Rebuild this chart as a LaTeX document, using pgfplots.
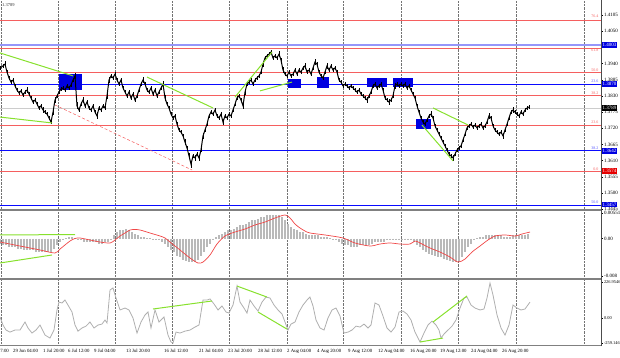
\documentclass[border=0pt]{standalone}
\usepackage{pgfplots}
\pgfplotsset{compat=1.18}
\usepackage{pgfplotstable}
\usepackage{fontspec}
\setmainfont{Liberation Serif}
\definecolor{fibred}{RGB}{245,95,95}
\definecolor{mblue}{RGB}{10,10,255}
\definecolor{lav}{RGB}{150,150,250}
\definecolor{grn}{RGB}{135,225,45}
\definecolor{boxb}{RGB}{0,0,225}
\definecolor{sepgray}{RGB}{128,128,128}
\definecolor{mgray}{RGB}{185,185,185}
\definecolor{ccig}{RGB}{175,175,175}
\definecolor{sigred}{RGB}{240,70,70}

\pgfplotstableread{
x c e
0 1.3925 0.0008
3 1.3932 0.0007
5 1.3938 0.0010
7 1.3911 0.0008
9 1.3891 0.0007
11 1.3877 0.0008
13 1.3884 0.0007
15 1.3864 0.0007
17 1.3850 0.0008
19 1.3840 0.0007
21 1.3847 0.0006
23 1.3833 0.0007
25 1.3843 0.0008
27 1.3850 0.0009
29 1.3836 0.0007
31 1.3823 0.0006
33 1.3809 0.0007
35 1.3816 0.0008
37 1.3802 0.0007
39 1.3789 0.0008
41 1.3796 0.0007
43 1.3782 0.0009
45 1.3775 0.0007
47 1.3768 0.0008
49 1.3755 0.0008
51 1.3741 0.0008
53 1.3775 0.0010
55 1.3816 0.0009
57 1.3830 0.0007
59 1.3843 0.0008
61 1.3853 0.0007
63 1.3857 0.0007
65 1.3850 0.0008
67 1.3864 0.0007
69 1.3857 0.0008
71 1.3867 0.0007
73 1.3884 0.0008
75 1.3898 0.0010
77 1.3796 0.0012
79 1.3782 0.0008
81 1.3802 0.0007
83 1.3816 0.0009
85 1.3796 0.0007
87 1.3809 0.0008
89 1.3789 0.0007
91 1.3782 0.0008
93 1.3796 0.0007
95 1.3775 0.0008
97 1.3762 0.0012
99 1.3789 0.0007
101 1.3782 0.0008
103 1.3796 0.0007
105 1.3789 0.0008
107 1.3830 0.0010
109 1.3884 0.0010
111 1.3898 0.0008
113 1.3891 0.0007
115 1.3904 0.0008
117 1.3884 0.0007
119 1.3870 0.0008
121 1.3884 0.0007
123 1.3857 0.0008
125 1.3843 0.0007
127 1.3830 0.0008
129 1.3843 0.0007
131 1.3823 0.0008
133 1.3836 0.0007
135 1.3816 0.0008
137 1.3830 0.0007
139 1.3850 0.0008
141 1.3870 0.0008
143 1.3884 0.0009
145 1.3870 0.0007
147 1.3850 0.0008
149 1.3843 0.0007
151 1.3857 0.0008
153 1.3836 0.0007
155 1.3850 0.0008
157 1.3830 0.0007
159 1.3843 0.0008
161 1.3857 0.0007
163 1.3870 0.0009
165 1.3823 0.0010
167 1.3802 0.0008
169 1.3789 0.0007
171 1.3768 0.0008
173 1.3755 0.0007
175 1.3762 0.0008
177 1.3734 0.0008
179 1.3714 0.0007
181 1.3707 0.0008
183 1.3694 0.0007
185 1.3673 0.0009
187 1.3653 0.0008
189 1.3626 0.0010
191 1.3598 0.0012
193 1.3626 0.0008
195 1.3619 0.0009
197 1.3632 0.0008
199 1.3619 0.0009
201 1.3646 0.0008
203 1.3694 0.0010
205 1.3714 0.0008
207 1.3734 0.0007
209 1.3762 0.0008
211 1.3775 0.0007
213 1.3768 0.0008
215 1.3782 0.0007
217 1.3762 0.0008
219 1.3755 0.0007
221 1.3768 0.0008
223 1.3741 0.0010
225 1.3762 0.0007
227 1.3755 0.0008
229 1.3768 0.0007
231 1.3762 0.0008
233 1.3782 0.0007
235 1.3802 0.0008
237 1.3823 0.0007
239 1.3830 0.0008
241 1.3816 0.0008
243 1.3796 0.0012
245 1.3843 0.0010
247 1.3870 0.0008
249 1.3877 0.0007
251 1.3884 0.0008
253 1.3870 0.0007
255 1.3884 0.0008
257 1.3891 0.0007
259 1.3898 0.0008
261 1.3911 0.0008
263 1.3938 0.0009
265 1.3959 0.0008
267 1.3966 0.0007
269 1.3972 0.0008
271 1.3979 0.0008
273 1.3959 0.0007
275 1.3966 0.0008
277 1.3959 0.0007
279 1.3972 0.0010
281 1.3952 0.0008
283 1.3918 0.0009
285 1.3904 0.0007
287 1.3898 0.0008
289 1.3911 0.0007
291 1.3898 0.0008
293 1.3904 0.0007
295 1.3918 0.0008
297 1.3904 0.0007
299 1.3918 0.0008
301 1.3911 0.0007
303 1.3925 0.0008
305 1.3932 0.0009
307 1.3911 0.0007
309 1.3918 0.0008
311 1.3904 0.0007
313 1.3925 0.0008
315 1.3945 0.0009
317 1.3938 0.0008
319 1.3911 0.0007
321 1.3898 0.0008
323 1.3891 0.0007
325 1.3911 0.0008
327 1.3932 0.0009
329 1.3918 0.0007
331 1.3932 0.0008
333 1.3918 0.0007
335 1.3925 0.0008
337 1.3911 0.0007
339 1.3884 0.0008
341 1.3877 0.0007
343 1.3864 0.0008
345 1.3870 0.0007
347 1.3864 0.0008
349 1.3857 0.0007
351 1.3864 0.0008
353 1.3857 0.0007
355 1.3850 0.0008
357 1.3843 0.0007
359 1.3850 0.0008
361 1.3836 0.0007
363 1.3830 0.0008
365 1.3823 0.0007
367 1.3816 0.0009
369 1.3830 0.0007
371 1.3843 0.0008
373 1.3864 0.0008
375 1.3870 0.0007
377 1.3857 0.0008
379 1.3864 0.0007
381 1.3870 0.0008
383 1.3850 0.0007
385 1.3823 0.0008
387 1.3816 0.0007
389 1.3809 0.0009
391 1.3816 0.0007
393 1.3830 0.0008
395 1.3864 0.0009
397 1.3870 0.0007
399 1.3864 0.0008
401 1.3870 0.0007
403 1.3864 0.0008
405 1.3870 0.0007
407 1.3857 0.0008
409 1.3864 0.0007
411 1.3850 0.0008
413 1.3836 0.0007
415 1.3823 0.0008
417 1.3796 0.0008
419 1.3775 0.0007
421 1.3755 0.0008
423 1.3741 0.0007
425 1.3734 0.0008
427 1.3748 0.0007
429 1.3762 0.0008
431 1.3768 0.0009
433 1.3755 0.0008
435 1.3728 0.0007
437 1.3714 0.0008
439 1.3700 0.0007
441 1.3687 0.0008
443 1.3673 0.0007
445 1.3660 0.0008
447 1.3646 0.0007
449 1.3632 0.0008
451 1.3626 0.0008
453 1.3619 0.0010
455 1.3632 0.0008
457 1.3646 0.0007
459 1.3653 0.0008
461 1.3660 0.0007
463 1.3680 0.0008
465 1.3700 0.0007
467 1.3721 0.0008
469 1.3728 0.0007
471 1.3734 0.0008
473 1.3724 0.0007
475 1.3731 0.0008
477 1.3721 0.0007
479 1.3728 0.0008
481 1.3734 0.0007
483 1.3721 0.0008
485 1.3728 0.0007
487 1.3741 0.0008
489 1.3762 0.0009
491 1.3755 0.0007
493 1.3728 0.0008
495 1.3714 0.0007
497 1.3707 0.0008
499 1.3700 0.0007
501 1.3707 0.0008
503 1.3694 0.0009
505 1.3714 0.0008
507 1.3734 0.0007
509 1.3755 0.0008
511 1.3775 0.0008
513 1.3782 0.0009
515 1.3775 0.0007
517 1.3768 0.0008
519 1.3762 0.0008
521 1.3775 0.0007
523 1.3768 0.0008
525 1.3782 0.0007
527 1.3789 0.0008
529 1.3792 0.0006
}\candles

\pgfplotstableread{
x v
0 -1.08
3 -1.30
6 -1.51
9 -1.73
12 -1.73
15 -1.94
18 -2.16
21 -2.16
24 -2.38
27 -2.38
30 -2.59
33 -2.59
36 -2.81
39 -2.81
42 -3.02
45 -3.02
48 -3.02
51 -2.81
54 -2.16
57 -1.30
60 -0.65
63 -0.22
66 0.11
69 0.22
72 0.22
75 0.11
78 -0.22
81 -0.43
84 -0.65
87 -0.65
90 -0.86
93 -0.86
96 -0.86
99 -1.08
102 -1.08
105 -0.86
108 -0.65
111 -0.22
114 0.65
117 1.30
120 1.73
123 1.94
126 2.16
129 1.94
132 1.51
135 1.08
138 0.65
141 0.43
144 0.22
147 0.11
150 0.02
153 -0.22
156 -0.22
159 -0.43
162 -0.65
165 -1.08
168 -1.73
171 -2.38
174 -3.02
177 -3.67
180 -4.10
183 -4.54
186 -4.75
189 -4.97
192 -5.18
195 -4.97
198 -4.54
201 -3.67
204 -2.81
207 -1.94
210 -1.08
213 -0.43
216 0.22
219 0.65
222 1.08
225 1.51
228 1.73
231 1.94
234 2.16
237 2.38
240 2.81
243 3.02
246 3.24
249 3.67
252 3.89
255 4.10
258 4.32
261 4.54
264 4.75
267 4.97
270 4.97
273 5.18
276 5.18
279 4.97
282 4.54
285 3.89
288 3.24
291 2.59
294 2.16
297 1.73
300 1.51
303 1.30
306 1.08
309 0.86
312 0.86
315 0.65
318 0.65
321 0.43
324 0.43
327 0.22
330 0.02
333 -0.22
336 -0.43
339 -0.65
342 -1.08
345 -1.30
348 -1.51
351 -1.73
354 -1.73
357 -1.73
360 -1.51
363 -1.30
366 -1.30
369 -1.30
372 -1.08
375 -0.86
378 -0.86
381 -0.86
384 -0.65
387 -0.43
390 -0.43
393 -0.43
396 -0.22
399 -0.22
402 -0.22
405 -0.22
408 -0.22
411 -0.43
414 -0.65
417 -1.30
420 -1.94
423 -2.59
426 -3.02
429 -3.24
432 -3.46
435 -3.67
438 -3.89
441 -4.10
444 -4.32
447 -4.54
450 -4.75
453 -4.97
456 -4.97
459 -4.75
462 -4.10
465 -3.02
468 -1.94
471 -1.08
474 -0.43
477 0.02
480 0.22
483 0.43
486 0.65
489 0.65
492 0.86
495 0.86
498 0.65
501 0.65
504 0.43
507 0.43
510 0.43
513 0.65
516 0.65
519 0.65
522 0.86
525 0.86
528 1.08
}\macdhist

\pgfplotstableread{
x v
0 -0.76
20 -1.62
40 -2.48
55 -3.13
60 -2.27
65 -1.40
70 -0.54
75 0.00
80 0.11
90 -0.32
100 -0.76
110 -0.97
115 -0.32
120 0.54
125 1.19
130 1.84
135 1.94
140 1.84
150 1.19
160 0.54
165 0.11
170 -0.76
180 -2.48
190 -4.21
198 -5.29
203 -5.08
210 -3.56
217 -1.19
225 0.54
235 1.40
245 2.05
255 2.92
265 3.56
275 4.43
285 5.08
290 4.43
295 3.13
300 2.27
305 1.62
310 1.19
325 0.76
343 0.11
355 -0.97
370 -1.62
380 -1.19
390 -0.97
400 -1.19
410 -1.19
415 -0.54
420 -0.97
430 -2.05
440 -2.92
450 -4.00
458 -5.08
465 -4.43
472 -2.92
480 -1.62
488 -0.32
495 0.54
505 0.76
515 0.54
522 0.97
530 1.40
}\macdsig

\pgfplotstableread{
x v
0 -53
3 -112
6 -149
10 -164
15 -149
20 -149
25 -90
28 -134
32 -171
36 -149
40 -112
45 -186
50 -208
54 -149
57 -1
59 57
62 50
65 72
68 35
72 -16
75 -112
78 -157
82 -134
86 -120
90 -90
94 -134
98 -112
102 -105
105 -75
107 -97
110 146
113 161
116 87
120 -1
125 13
129 -1
133 -60
137 -171
141 -90
145 -38
148 -16
151 -134
155 -1
159 -90
164 -53
168 -186
171 -237
173 -245
176 -164
180 -171
185 -157
190 -149
195 -127
199 -112
203 72
207 72
210 80
214 43
218 -1
222 28
226 -16
229 -24
233 35
237 175
240 57
244 13
247 -24
250 72
254 28
258 -9
262 57
266 94
270 87
274 35
278 -1
282 -31
285 -90
288 -149
291 -105
295 -90
299 -16
303 35
307 72
310 94
313 28
316 -75
320 -134
324 -149
328 -60
332 -1
336 13
340 -46
344 -171
348 -164
352 -149
356 -120
360 -127
364 -105
368 -134
371 -112
375 50
379 35
383 -46
387 -134
391 -164
395 -127
399 -16
403 -9
407 -31
411 -75
415 -164
420 -237
424 -171
428 -112
432 -83
436 -112
439 -149
441 -208
444 -178
448 -149
452 -120
456 -75
460 13
464 87
467 94
471 35
475 13
480 -1
484 6
487 87
490 197
493 109
497 -38
501 -134
505 -186
509 -112
513 35
517 13
521 -1
525 6
530 57
}\cci

\pgfplotsset{panel/.style={
  scale only axis, width=601pt, xmin=0, xmax=601,
  axis line style={draw=none},
  xtick={1,58,115,172,229,287,343,401,458,516,584}, xticklabels={},
  xtick style={draw=none}, xmajorgrids,
  grid style={black!55, densely dotted, line width=0.45pt},
  ytick pos=right, yticklabel pos=right, tick align=outside,
  ytick style={black, line width=0.4pt}, major tick length=2pt,
  yticklabel style={font=\fontsize{5}{5}\selectfont, inner sep=1pt},
  scaled y ticks=false}}

\begin{document}
\begin{tikzpicture}[x=1pt,y=1pt]
\path[use as bounding box] (0,0) rectangle (620,357);

% ---------- main price panel ----------
\begin{axis}[panel, at={(0pt,147pt)}, anchor=south west, height=210pt, ymin=1.3442, ymax=1.4156,
  ytick={1.3445,1.3500,1.3555,1.3610,1.3665,1.3720,1.3775,1.3830,1.3885,1.3940,1.4050,1.4105},
  yticklabels={1.3445,1.3500,1.3555,1.3610,1.3665,1.3720,1.3775,1.3830,1.3885,1.3940,1.4050,1.4105}]
\draw[fibred, line width=0.7pt] (axis cs:0,1.4088) -- (axis cs:601,1.4088);
\draw[fibred, line width=0.7pt] (axis cs:0,1.3992) -- (axis cs:601,1.3992);
\draw[fibred, line width=0.7pt] (axis cs:0,1.3911) -- (axis cs:601,1.3911);
\draw[fibred, line width=0.7pt] (axis cs:0,1.3831) -- (axis cs:601,1.3831);
\draw[fibred, line width=0.7pt] (axis cs:0,1.3731) -- (axis cs:601,1.3731);
\draw[fibred, line width=0.7pt] (axis cs:0,1.3574) -- (axis cs:601,1.3574);
\draw[lav, line width=1.8pt] (axis cs:0,1.4003) -- (axis cs:601,1.4003);
\draw[mblue, line width=1pt] (axis cs:0,1.3870) -- (axis cs:601,1.3870);
\draw[mblue, line width=1pt] (axis cs:0,1.3644) -- (axis cs:601,1.3644);
\draw[mblue, line width=1pt] (axis cs:0,1.3457) -- (axis cs:601,1.3457);
\draw[black!20, line width=0.5pt] (axis cs:0,1.3789) -- (axis cs:601,1.3789);
\addplot[color=fibred, densely dashed, line width=0.5pt] coordinates {(55,1.3799) (192,1.3578)};
\addplot[fill=boxb, draw=none] coordinates {(59,1.3904) (82,1.3904) (82,1.3850) (59,1.3850)} -- cycle;
\addplot[fill=boxb, draw=none] coordinates {(288,1.3887) (301,1.3887) (301,1.3857) (288,1.3857)} -- cycle;
\addplot[fill=boxb, draw=none] coordinates {(317,1.3894) (329,1.3894) (329,1.3857) (317,1.3857)} -- cycle;
\addplot[fill=boxb, draw=none] coordinates {(367,1.3891) (387,1.3891) (387,1.3860) (367,1.3860)} -- cycle;
\addplot[fill=boxb, draw=none] coordinates {(393,1.3891) (413,1.3891) (413,1.3860) (393,1.3860)} -- cycle;
\addplot[fill=boxb, draw=none] coordinates {(416,1.3751) (431,1.3751) (431,1.3717) (416,1.3717)} -- cycle;
\addplot[color=black, line width=1pt, mark=none,
  error bars/.cd, y dir=both, y explicit, error mark=none,
  error bar style={line width=0.45pt, black}]
  table[x=x, y=c, y error=e] {\candles};
\addplot[color=grn, line width=1pt] coordinates {(0,1.3976) (73,1.3898)};
\addplot[color=grn, line width=1pt] coordinates {(0,1.3758) (52,1.3738)};
\addplot[color=grn, line width=1pt] coordinates {(147,1.3894) (213,1.3789)};
\addplot[color=grn, line width=1pt] coordinates {(235,1.3826) (272,1.3979)};
\addplot[color=grn, line width=1pt] coordinates {(260,1.3847) (292,1.3877)};
\addplot[color=grn, line width=1pt] coordinates {(433,1.3789) (468,1.3731)};
\addplot[color=grn, line width=1pt] coordinates {(422,1.3731) (453,1.3609)};
\end{axis}

% ---------- MACD panel ----------
\begin{axis}[panel, at={(0pt,79pt)}, anchor=south west, height=67pt, ymin=-8.53, ymax=5.94,
  ytick={-8.1,0,5.51}, yticklabels={-0.008,0.00,0.00551}]
\addplot[ycomb, color=mgray, line width=1.2pt, mark=none] table[x=x,y=v] {\macdhist};
\addplot[color=sigred, line width=0.7pt, smooth, mark=none] table[x=x,y=v] {\macdsig};
\addplot[color=grn, line width=1pt] coordinates {(0,0.76) (75,0.86)};
\addplot[color=grn, line width=1pt] coordinates {(0,-5.29) (52,-3.56)};
\end{axis}

% ---------- CCI panel ----------
\begin{axis}[panel, at={(0pt,12pt)}, anchor=south west, height=66pt, ymin=-259.146, ymax=226.9546,
  ytick={-245,-60,205}, yticklabels={-259.146,0.00,226.9546},
  yticklabel style={font=\fontsize{4.4}{4.4}\selectfont, inner sep=0.8pt}]
\addplot[color=ccig, line width=0.8pt, mark=none] table[x=x,y=v] {\cci};
\addplot[color=grn, line width=1pt] coordinates {(153,6) (212,65)};
\addplot[color=grn, line width=1pt] coordinates {(237,175) (267,94)};
\addplot[color=grn, line width=1pt] coordinates {(258,-16) (287,-142)};
\addplot[color=grn, line width=1pt] coordinates {(420,-237) (443,-208)};
\addplot[color=grn, line width=1pt] coordinates {(433,-90) (467,102)};
\end{axis}

\draw[sepgray, line width=2pt] (0,147) -- (601,147);
\draw[sepgray, line width=2pt] (0,78.5) -- (601,78.5);
\draw[sepgray, line width=1.5pt] (0,11.5) -- (601,11.5);
\draw[black!70, line width=0.5pt] (601,11) -- (601,357);

\begin{scope}[every node/.style={anchor=west, inner sep=0.9pt, text=white, font=\fontsize{5}{5}\selectfont}]
\node[fill=boxb] at (601.5,312) {1.4003};
\node[fill=boxb] at (601.5,273) {1.3870};
\node[fill=black] at (601.5,249) {1.3789};
\node[fill=boxb] at (601.5,206) {1.3642};
\node[fill=red!90!black] at (601.5,186) {1.3574};
\node[fill=boxb] at (601.5,152.5) {1.3457};
\end{scope}

\begin{scope}[every node/.style={anchor=east, inner sep=0.5pt, font=\fontsize{4}{4}\selectfont}]
\node[text=fibred] at (599,341) {76.4};
\node[text=fibred] at (599,307) {61.8};
\node[text=fibred] at (599,287) {50.0};
\node[text=mblue!70] at (599,276) {23.6};
\node[text=fibred] at (599,264) {38.2};
\node[text=fibred] at (599,235) {23.6};
\node[text=mblue!70] at (599,209) {38.2};
\node[text=fibred] at (599,188) {0.0};
\node[text=mblue!70] at (599,155) {50.0};
\end{scope}

\node[anchor=west, inner sep=0pt, font=\fontsize{4.5}{4.5}\selectfont, text=black!80] at (2,352) {1.3789};

\begin{scope}[every node/.style={anchor=west, inner sep=0pt, font=\fontsize{4.8}{4.8}\selectfont}]
\node[anchor=east] at (9,6) {7:00};
\node at (13,6) {29 Jun 04:00};
\node at (43,6) {1 Jul 20:00};
\node at (68,6) {6 Jul 12:00};
\node at (94,6) {9 Jul 04:00};
\node at (126,6) {13 Jul 20:00};
\node at (164,6) {16 Jul 12:00};
\node at (199,6) {21 Jul 04:00};
\node at (228,6) {23 Jul 20:00};
\node at (258,6) {28 Jul 12:00};
\node at (287,6) {2 Aug 04:00};
\node at (317,6) {4 Aug 20:00};
\node at (348,6) {9 Aug 12:00};
\node at (378,6) {12 Aug 04:00};
\node at (410,6) {16 Aug 20:00};
\node at (440,6) {19 Aug 12:00};
\node at (471,6) {24 Aug 04:00};
\node at (502,6) {26 Aug 20:00};
\end{scope}
\end{tikzpicture}
\end{document}
